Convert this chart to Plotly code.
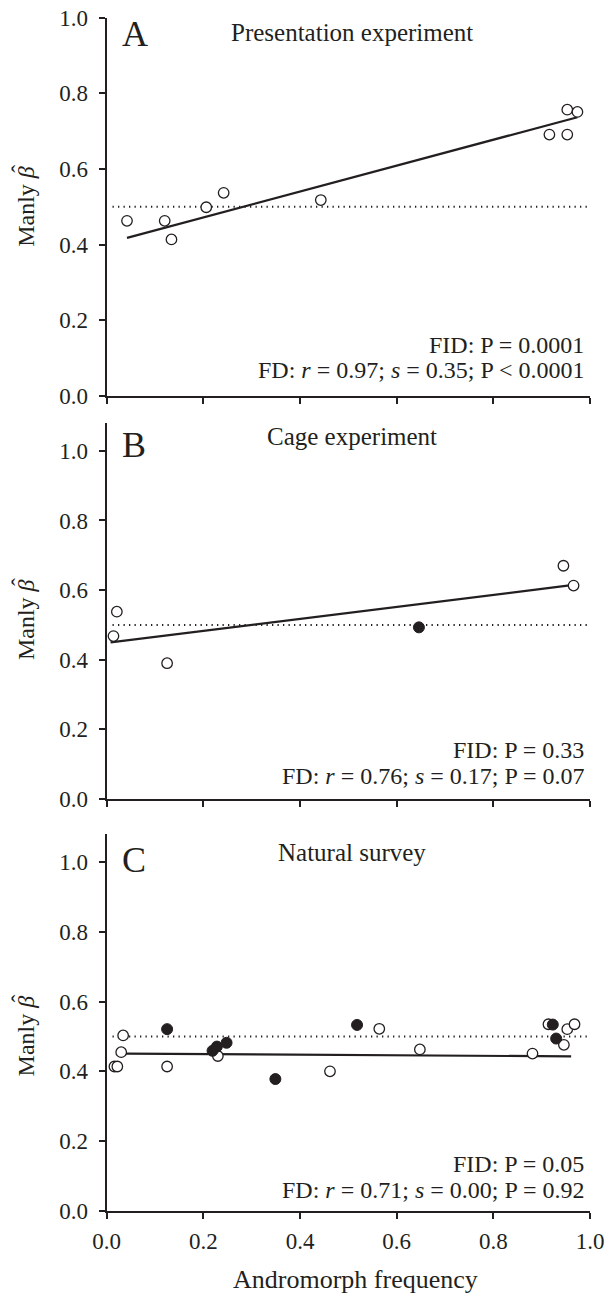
import plotly.graph_objects as go

# ---------------- data ----------------
# Panel A: Presentation experiment
a_open_x = [0.042, 0.120, 0.134, 0.206, 0.242, 0.443, 0.916, 0.953, 0.953, 0.974]
a_open_y = [0.463, 0.463, 0.414, 0.499, 0.537, 0.518, 0.691, 0.691, 0.757, 0.751]
a_fit_x = [0.042, 0.974]
a_fit_y = [0.418, 0.737]

# Panel B: Cage experiment
b_open_x = [0.014, 0.021, 0.125, 0.945, 0.966]
b_open_y = [0.468, 0.538, 0.390, 0.670, 0.613]
b_fill_x = [0.646]
b_fill_y = [0.493]
b_fit_x = [0.008, 0.966]
b_fit_y = [0.450, 0.615]

# Panel C: Natural survey
c_open_x = [0.016, 0.022, 0.030, 0.034, 0.125, 0.230, 0.462, 0.564, 0.648, 0.881, 0.914, 0.946, 0.953, 0.968]
c_open_y = [0.414, 0.414, 0.455, 0.503, 0.414, 0.444, 0.400, 0.522, 0.463, 0.451, 0.535, 0.476, 0.521, 0.535]
c_fill_x = [0.125, 0.219, 0.228, 0.248, 0.349, 0.518, 0.923, 0.930]
c_fill_y = [0.521, 0.459, 0.471, 0.482, 0.378, 0.533, 0.534, 0.494]
c_fit_x = [0.038, 0.961]
c_fit_y = [0.451, 0.443]

# reference line (beta = 0.5)
ref_x = [0.012, 0.996]
ref_y = [0.5, 0.5]

panel_letters = ["A", "B", "C"]
panel_titles = ["Presentation experiment", "Cage experiment", "Natural survey"]
fid_texts = ["FID: P = 0.0001", "FID: P = 0.33", "FID: P = 0.05"]
fd_texts = [
    "FD: <i>r</i> = 0.97; <i>s</i> = 0.35; P &lt; 0.0001",
    "FD: <i>r</i> = 0.76; <i>s</i> = 0.17; P = 0.07",
    "FD: <i>r</i> = 0.71; <i>s</i> = 0.00; P = 0.92",
]
x_ticks = [0.0, 0.2, 0.4, 0.6, 0.8, 1.0]
y_ticks = [0.0, 0.2, 0.4, 0.6, 0.8, 1.0]
x_title = "Andromorph frequency"
y_title = "Manly <i>\u03b2</i>"
y_title_hat = "\u02c6"

# ---------------- figure ----------------
FONT = "Liberation Serif"
W, H = 605, 1294
INK = "#231f20"

x_dom = [106.7 / W, 590.0 / W]
panels = [
    dict(top=17.7, bottom=396.0, ymax=1.0),
    dict(top=423.0, bottom=799.0, ymax=1.08),
    dict(top=834.0, bottom=1211.0, ymax=1.08),
]

fig = go.Figure()

open_sets = [(a_open_x, a_open_y), (b_open_x, b_open_y), (c_open_x, c_open_y)]
fill_sets = [None, (b_fill_x, b_fill_y), (c_fill_x, c_fill_y)]
fit_sets = [(a_fit_x, a_fit_y), (b_fit_x, b_fit_y), (c_fit_x, c_fit_y)]

for i in range(3):
    xa = "x" if i == 0 else f"x{i+1}"
    ya = "y" if i == 0 else f"y{i+1}"
    fig.add_trace(go.Scatter(x=ref_x, y=ref_y, xaxis=xa, yaxis=ya, mode="lines",
                             line=dict(color=INK, width=2, dash="1.3px,4.2px"),
                             showlegend=False, hoverinfo="skip"))
    fx, fy = fit_sets[i]
    fig.add_trace(go.Scatter(x=fx, y=fy, xaxis=xa, yaxis=ya, mode="lines",
                             line=dict(color=INK, width=2.2),
                             showlegend=False, hoverinfo="skip"))
    ox, oy = open_sets[i]
    fig.add_trace(go.Scatter(x=ox, y=oy, xaxis=xa, yaxis=ya, mode="markers",
                             marker=dict(symbol="circle", size=10.5, color="white",
                                         line=dict(color=INK, width=1.3)),
                             cliponaxis=False, showlegend=False))
    if fill_sets[i] is not None:
        fx2, fy2 = fill_sets[i]
        fig.add_trace(go.Scatter(x=fx2, y=fy2, xaxis=xa, yaxis=ya, mode="markers",
                                 marker=dict(symbol="circle", size=11, color=INK,
                                             line=dict(color=INK, width=1)),
                                 cliponaxis=False, showlegend=False))

layout = dict(
    width=W, height=H,
    margin=dict(l=0, r=0, t=0, b=0, autoexpand=False),
    paper_bgcolor="white", plot_bgcolor="white",
    font=dict(family=FONT, color=INK, size=23),
    showlegend=False,
)

annotations = []
label_y = [(0.957, 0.962, 0.135, 0.069), (1.017, 1.040, 0.141, 0.066), (1.006, 1.026, 0.135, 0.060)]
title_y = [0.5, 0.514, 0.5]
TITLE_X = 26.0
for i, p in enumerate(panels):
    sfx = "" if i == 0 else str(i + 1)
    y_dom = [1 - p["bottom"] / H, 1 - p["top"] / H]
    layout["xaxis" + sfx] = dict(
        domain=x_dom, range=[0, 1], anchor="y" + sfx,
        showline=True, linecolor=INK, linewidth=2,
        ticks="outside", ticklen=6, tickwidth=2, tickcolor=INK,
        tickvals=x_ticks, tickformat=".1f", ticklabelstandoff=2,
        ticklabeloverflow="allow",
        showticklabels=(i == 2), tickfont=dict(size=23, family=FONT, color=INK),
        showgrid=False, zeroline=False, fixedrange=True,
    )
    layout["yaxis" + sfx] = dict(
        domain=y_dom, range=[0, p["ymax"]], anchor="x" + sfx,
        showline=True, linecolor=INK, linewidth=2,
        ticks="outside", ticklen=6, tickwidth=2, tickcolor=INK,
        tickvals=y_ticks, tickformat=".1f", ticklabelstandoff=6,
        ticklabeloverflow="allow",
        tickfont=dict(size=23, family=FONT, color=INK),
        showgrid=False, zeroline=False, fixedrange=True,
    )
    xr, yr = "x" + sfx, "y" + sfx
    ly, ty, f1, f2 = label_y[i]
    annotations.append(dict(text=panel_letters[i], xref=xr, yref=yr, x=0.027, y=ly,
                            xanchor="left", yanchor="middle", showarrow=False,
                            font=dict(size=36, family=FONT, color=INK)))
    annotations.append(dict(text=panel_titles[i], xref=xr, yref=yr, x=0.508, y=ty,
                            xanchor="center", yanchor="middle", showarrow=False,
                            font=dict(size=25, family=FONT, color=INK)))
    annotations.append(dict(text=fid_texts[i], xref=xr, yref=yr, x=0.992, y=f1,
                            xanchor="right", yanchor="middle", showarrow=False,
                            font=dict(size=24, family=FONT, color=INK)))
    annotations.append(dict(text=fd_texts[i], xref=xr, yref=yr, x=0.992, y=f2,
                            xanchor="right", yanchor="middle", showarrow=False,
                            font=dict(size=24, family=FONT, color=INK)))
    # rotated y-axis title and the hat over beta
    ty_px = p["bottom"] - title_y[i] * (p["bottom"] - p["top"]) / p["ymax"]
    annotations.append(dict(text=y_title, xref="paper", yref="paper",
                            x=TITLE_X / W, y=1 - ty_px / H,
                            xanchor="center", yanchor="middle", textangle=-90, showarrow=False,
                            font=dict(size=24, family=FONT, color=INK)))
    annotations.append(dict(text=y_title_hat, xref="paper", yref="paper",
                            x=(TITLE_X - 6) / W, y=1 - (ty_px - 38) / H,
                            xanchor="center", yanchor="middle", textangle=-90, showarrow=False,
                            font=dict(size=24, family=FONT, color=INK)))

annotations.append(dict(text=x_title, xref="paper", yref="paper", x=355 / W,
                        y=1 - 1279 / H,
                        xanchor="center", yanchor="middle", showarrow=False,
                        font=dict(size=26, family=FONT, color=INK)))
layout["annotations"] = annotations

fig.update_layout(**layout)
fig.write_html("out.html",
               config={"displayModeBar": False, "staticPlot": True},
               post_script="document.body.style.margin='0';document.body.style.padding='0';")
